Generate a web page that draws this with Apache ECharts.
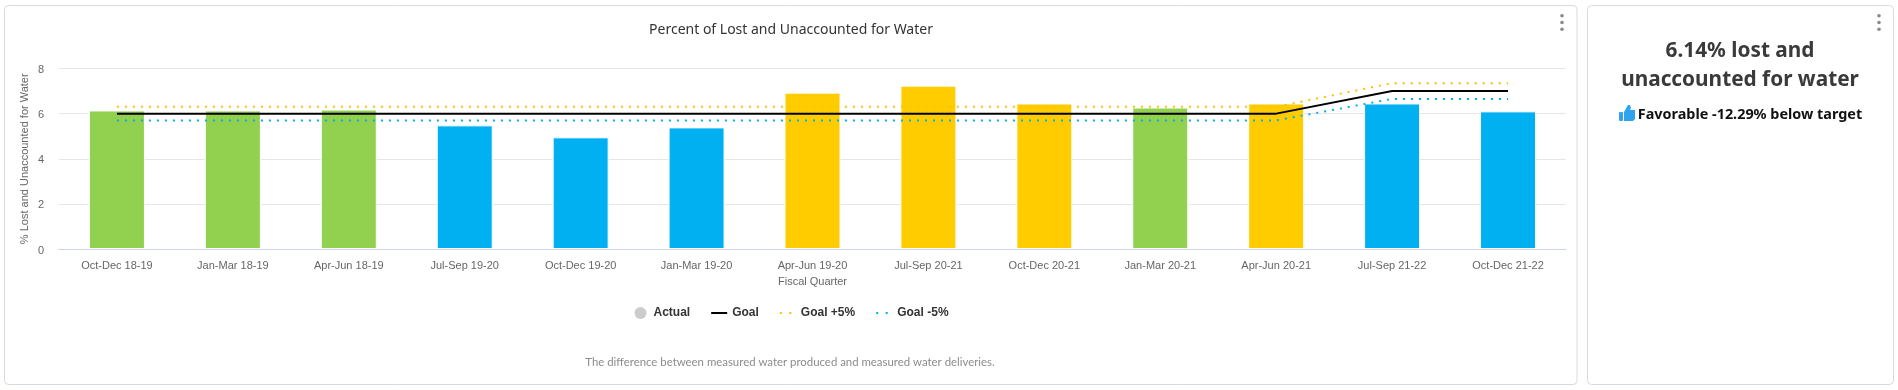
<!DOCTYPE html>
<html><head><meta charset="utf-8">
<style>html,body{margin:0;padding:0;background:#fff}#c{width:1898px;height:390px}</style>
<script src="https://cdn.jsdelivr.net/npm/echarts@6/dist/echarts.min.js"></script>
</head><body><div id="c"></div>
<script>
const categories=['Oct-Dec 18-19','Jan-Mar 18-19','Apr-Jun 18-19','Jul-Sep 19-20','Oct-Dec 19-20','Jan-Mar 19-20','Apr-Jun 19-20','Jul-Sep 20-21','Oct-Dec 20-21','Jan-Mar 20-21','Apr-Jun 20-21','Jul-Sep 21-22','Oct-Dec 21-22'];
const actual=[6.14,6.14,6.18,5.48,4.95,5.39,6.93,7.24,6.45,6.27,6.45,6.45,6.1];
const barColors=['#92d050','#92d050','#92d050','#00b0f0','#00b0f0','#00b0f0','#ffcc00','#ffcc00','#ffcc00','#92d050','#ffcc00','#00b0f0','#00b0f0'];
const goal=[6,6,6,6,6,6,6,6,6,6,6,7,7];
const goalPlus=[6.3,6.3,6.3,6.3,6.3,6.3,6.3,6.3,6.3,6.3,6.3,7.35,7.35];
const goalMinus=[5.7,5.7,5.7,5.7,5.7,5.7,5.7,5.7,5.7,5.7,5.7,6.65,6.65];
const card='#d6dae6';
const dots=x=>[15.700,22.500,29.300].map(y=>({type:'circle',silent:true,shape:{cx:x,cy:y,r:1.800},style:{fill:'#8a8a8a'}}));
const chart=echarts.init(document.getElementById('c'),null,{renderer:'canvas'});
const hidden={itemStyle:{opacity:0}};
chart.setOption({
  animation:false,
  textStyle:{fontFamily:'"Liberation Sans"'},
  title:[
    {text:'Percent of Lost and Unaccounted for Water',padding:0,left:791,top:23,textAlign:'center',textStyle:{fontFamily:'"Noto Sans"',fontSize:14,fontWeight:400,color:'#333'}},
    {text:'The difference between measured water produced and measured water deliveries.',padding:0,left:790,top:357,textAlign:'center',textStyle:{fontFamily:'Lato',fontSize:11.400,fontWeight:400,color:'#8c8c8c'}},
    {text:'6.14% lost and\nunaccounted for water',padding:0,left:1740,top:37,textAlign:'center',textStyle:{fontFamily:'"Noto Sans"',fontSize:20.800,fontWeight:'bold',color:'#3a3a3a',lineHeight:29}},
    {text:'Favorable -12.29% below target',padding:0,left:1750,top:108,textAlign:'center',textStyle:{fontFamily:'"Noto Sans"',fontSize:14.400,fontWeight:'bold',color:'#111'}}
  ],
  legend:{top:307,left:634.500,itemGap:20,itemWidth:16,itemHeight:12,selectedMode:false,padding:0,
    textStyle:{fontFamily:'"Liberation Sans"',fontSize:12,fontWeight:700,color:'#333'},
    data:[{name:'Actual',icon:'circle'},{name:'Goal',...hidden},{name:'Goal +5%',...hidden,lineStyle:{type:[2,7.500]}},{name:'Goal -5%',...hidden,lineStyle:{type:[2,7.500]}}]},
  grid:{left:59,right:332,top:68.500,height:180.500,containLabel:false},
  xAxis:{type:'category',data:categories,name:'Fiscal Quarter',nameLocation:'middle',nameGap:27,
    nameTextStyle:{fontSize:11,color:'#666'},
    axisTick:{show:false},axisLine:{lineStyle:{color:'#ccd6eb'}},
    axisLabel:{fontSize:11,color:'#666',margin:11,interval:0}},
  yAxis:{type:'value',min:0,max:8,interval:2,name:'% Lost and Unaccounted for Water',nameLocation:'middle',nameGap:29,nameMoveOverlap:false,
    nameTextStyle:{fontSize:11,color:'#666'},
    axisLabel:{fontSize:11,color:'#666',margin:15,verticalAlign:'top',lineHeight:3},
    axisLine:{show:false},axisTick:{show:false},splitLine:{lineStyle:{color:'#e6e6e6'}}},
  series:[
    {name:'Actual',type:'bar',barWidth:56,itemStyle:{color:'#cccccc'},
     data:actual.map((v,i)=>({value:v,itemStyle:{color:barColors[i],borderColor:'#fff',borderWidth:1}}))},
    {name:'Goal',type:'line',data:goal,symbol:'none',z:5,itemStyle:{color:'#000'},lineStyle:{color:'#000',width:2}},
    {name:'Goal +5%',type:'line',data:goalPlus,symbol:'none',z:4,itemStyle:{color:'#ffc000'},lineStyle:{color:'#ffc000',width:2,type:[2,6]}},
    {name:'Goal -5%',type:'line',data:goalMinus,symbol:'none',z:4,itemStyle:{color:'#00b0f0'},lineStyle:{color:'#00b0f0',width:2,type:[2,6]}}
  ],
  graphic:[
    {type:'rect',z:-10,silent:true,shape:{x:4.500,y:5.500,width:1572.500,height:379,r:4},style:{fill:'#fff',stroke:card,lineWidth:1}},
    {type:'rect',z:-10,silent:true,shape:{x:1587.500,y:5.500,width:306,height:379,r:4},style:{fill:'#fff',stroke:card,lineWidth:1}},
    ...dots(1562),...dots(1879),
    {type:'rect',silent:true,shape:{x:1619,y:112,width:4,height:9,r:1},style:{fill:'#2ea3ee'}},
    {type:'polygon',silent:true,shape:{points:[[1624,112],[1628,105],[1630,105],[1631,108],[1630,110],[1635,110],[1635,119],[1633,121],[1624,121]]},style:{fill:'#2ea3ee'}}
  ]
});
</script></body></html>
